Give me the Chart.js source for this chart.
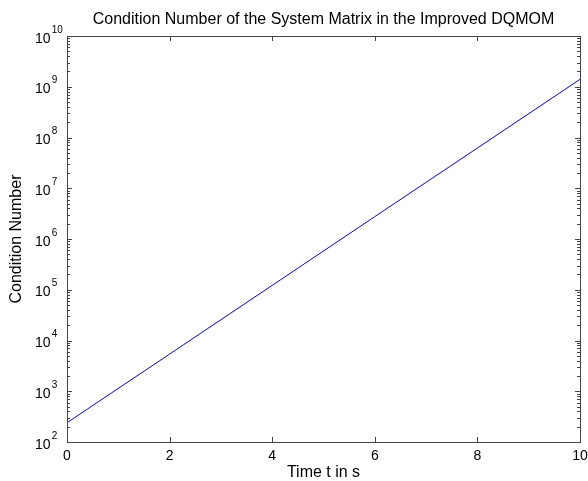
<!DOCTYPE html>
<html>
<head>
<meta charset="utf-8">
<script src="https://cdn.jsdelivr.net/npm/chart.js@4"></script>
<style>
  html, body { margin: 0; padding: 0; background: #fff; }
  #wrap { width: 588px; height: 481px; }
</style>
</head>
<body>
<div id="wrap"><canvas id="condChart" width="588" height="481"></canvas></div>
<script>
// values
const timeValues = [0, 2, 4, 6, 8, 10];
const condValues = [240, 5.4e3, 1.22e5, 2.76e6, 6.2e7, 1.4e9];
const xTicks = [0, 2, 4, 6, 8, 10];
const yExponents = [2, 3, 4, 5, 6, 7, 8, 9, 10];

const titleText = "Condition Number of the System Matrix in the Improved DQMOM";
const xLabel = "Time t in s";
const yLabel = "Condition Number";

const FONT = "Arial, 'Liberation Sans', Helvetica, sans-serif";

const matlabAxes = {
  id: "matlabAxes",
  afterDraw(chart) {
    const ctx = chart.ctx;
    const { left, right, top, bottom } = chart.chartArea;
    const xs = chart.scales.x;
    const ys = chart.scales.y;
    ctx.save();

    // box
    ctx.strokeStyle = "#444";
    ctx.lineWidth = 1;
    ctx.strokeRect(Math.round(left) + 0.5, Math.round(top) + 0.5,
      Math.round(right - left), Math.round(bottom - top));

    // x ticks, top and bottom, inward
    ctx.beginPath();
    xTicks.forEach((v) => {
      const px = Math.round(xs.getPixelForValue(v)) + 0.5;
      ctx.moveTo(px, bottom);
      ctx.lineTo(px, bottom - 5);
      ctx.moveTo(px, top);
      ctx.lineTo(px, top + 5);
    });
    // y ticks, major and minor, both sides
    yExponents.forEach((e) => {
      for (let m = 1; m <= 9; m++) {
        const v = m * Math.pow(10, e);
        if (v > ys.max * 1.0001) break;
        const py = Math.round(ys.getPixelForValue(v)) + 0.5;
        const len = m === 1 ? 5 : 3;
        ctx.moveTo(left, py);
        ctx.lineTo(left + len, py);
        ctx.moveTo(right, py);
        ctx.lineTo(right - len, py);
      }
    });
    ctx.stroke();

    // tick labels
    ctx.fillStyle = "#000";
    ctx.font = "14px " + FONT;
    ctx.textAlign = "center";
    ctx.textBaseline = "alphabetic";
    xTicks.forEach((v) => {
      ctx.fillText(String(v), xs.getPixelForValue(v), bottom + 17.5);
    });

    yExponents.forEach((e) => {
      const py = ys.getPixelForValue(Math.pow(10, e));
      ctx.font = "14px " + FONT;
      ctx.textAlign = "right";
      ctx.fillText("10", left - 16.5, py + 6.5);
      ctx.font = "10px " + FONT;
      ctx.textAlign = "left";
      ctx.fillText(String(e), left - 15.3, py - 3.3);
    });

    // title and axis labels
    ctx.font = "16px " + FONT;
    ctx.textAlign = "center";
    ctx.fillText(titleText, (left + right) / 2, 24);
    ctx.fillText(xLabel, (left + right) / 2, 477);

    ctx.translate(21, (top + bottom) / 2);
    ctx.rotate(-Math.PI / 2);
    ctx.fillText(yLabel, 0, 0);
    ctx.restore();
  },
};

new Chart(document.getElementById("condChart"), {
  type: "line",
  data: {
    datasets: [
      {
        data: timeValues.map((t, i) => ({ x: t, y: condValues[i] })),
        borderColor: "#0000ff",
        borderWidth: 1,
        pointRadius: 0,
        tension: 0,
      },
    ],
  },
  options: {
    responsive: false,
    animation: false,
    layout: { padding: { left: 67, right: 8, top: 36, bottom: 39 } },
    plugins: {
      legend: { display: false },
      tooltip: { enabled: false },
    },
    scales: {
      x: {
        type: "linear",
        min: 0,
        max: 10,
        display: false,
      },
      y: {
        type: "logarithmic",
        min: 100,
        max: 1e10,
        display: false,
      },
    },
  },
  plugins: [matlabAxes],
});
</script>
</body>
</html>
